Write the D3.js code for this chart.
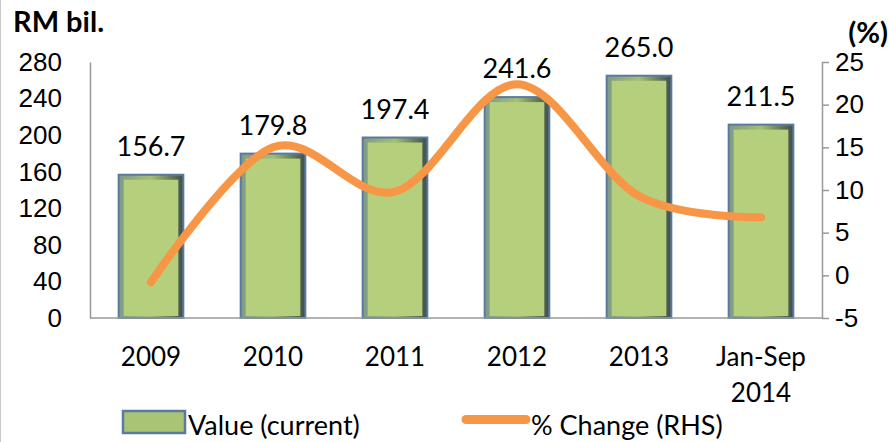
<!DOCTYPE html>
<html>
<head>
<meta charset="utf-8">
<script src="https://cdn.jsdelivr.net/npm/d3@7"></script>
<style>
  body { margin: 0; background: #fff; }
  svg { display: block; font-family: Lato, "Liberation Sans", sans-serif; }
</style>
</head>
<body>
<svg id="chart" width="889" height="442"></svg>
<script>
"use strict";

// 카테고리, 값 데이터
const categories = ["2009", "2010", "2011", "2012", "2013", "Jan-Sep\n2014"];
const values = [156.7, 179.8, 197.4, 241.6, 265.0, 211.5];
const pctChange = [-0.8, 15.0, 9.8, 22.4, 9.3, 6.8];
const leftTicks = [0, 40, 80, 120, 160, 200, 240, 280];
const rightTicks = [-5, 0, 5, 10, 15, 20, 25];

const svg = d3.select("#chart");
const plotL = 90, plotR = 822, plotT = 62, plotB = 318;

const x = d3.scaleBand().domain(categories).range([plotL, plotR]).paddingInner(0.47).paddingOuter(0.235);
const y = d3.scaleLinear().domain([0, 280]).range([plotB, plotT]);
const y2 = d3.scaleLinear().domain([-5, 25]).range([plotB, plotT]);

// 바깥 테두리 (왼쪽 회색 선)
svg.append("line").attr("x1", 0.5).attr("x2", 0.5).attr("y1", 0).attr("y2", 442)
  .attr("stroke", "#c8c8c8");

// 그라디언트 정의 - 막대 입체 효과
const defs = svg.append("defs");
const g1 = defs.append("linearGradient").attr("id", "edge").attr("x1", 0).attr("x2", 1);
g1.append("stop").attr("offset", "0%").attr("stop-color", "#7f9a8a");
g1.append("stop").attr("offset", "50%").attr("stop-color", "#a4bf74");
g1.append("stop").attr("offset", "100%").attr("stop-color", "#3f4f4a");

// 왼쪽 축
const yAxis = svg.append("g").attr("transform", `translate(${plotL},0)`)
  .call(d3.axisLeft(y).tickValues(leftTicks).tickSize(0).tickPadding(28));
yAxis.select(".domain").attr("stroke", "#999").attr("stroke-width", 1.5);
yAxis.selectAll("text").attr("font-size", 26).attr("fill", "#000");

// 오른쪽 축 (하이픈 마이너스 그대로 표시)
const y2Axis = svg.append("g").attr("transform", `translate(${plotR},0)`)
  .call(d3.axisRight(y2).tickValues(rightTicks).tickFormat((d) => String(d))
    .tickSize(7).tickPadding(6).tickSizeOuter(0));
y2Axis.select(".domain").attr("stroke", "#999").attr("stroke-width", 1.5);
y2Axis.selectAll("line").attr("stroke", "#999").attr("stroke-width", 1.5);
y2Axis.selectAll("text").attr("font-size", 26).attr("fill", "#000");

// 막대
const bars = svg.append("g").selectAll("g").data(values).enter().append("g");
bars.append("rect")
  .attr("x", (d, i) => x(categories[i]))
  .attr("y", (d) => y(d))
  .attr("width", x.bandwidth())
  .attr("height", (d) => plotB - y(d))
  .attr("fill", "url(#edge)")
  .attr("stroke", "#5a7aa0")
  .attr("stroke-width", 2);
bars.append("rect")
  .attr("x", (d, i) => x(categories[i]) + 5)
  .attr("y", (d) => y(d) + 5)
  .attr("width", x.bandwidth() - 10)
  .attr("height", (d) => plotB - y(d) - 7)
  .attr("fill", "#b5cf7d");
bars.append("text")
  .attr("x", (d, i) => x(categories[i]) + x.bandwidth() / 2)
  .attr("y", (d) => y(d) - 19)
  .attr("text-anchor", "middle")
  .attr("font-size", 27)
  .text((d) => d.toFixed(1));

// 아래 기준선
svg.append("line").attr("x1", plotL).attr("x2", plotR).attr("y1", plotB).attr("y2", plotB)
  .attr("stroke", "#999").attr("stroke-width", 1.5);

// x축 라벨 (두 줄 처리)
const xl = svg.append("g").selectAll("text").data(categories).enter().append("text")
  .attr("x", (d) => x(d) + x.bandwidth() / 2)
  .attr("y", 366)
  .attr("text-anchor", "middle")
  .attr("font-size", 26);
xl.selectAll("tspan").data((d) => d.split("\n")).enter().append("tspan")
  .attr("x", function () { return this.parentNode.getAttribute("x"); })
  .attr("dy", (d, i) => (i ? 36 : 0))
  .text((d) => d);

// 변화율 곡선
const line = d3.line()
  .x((d, i) => x(categories[i]) + x.bandwidth() / 2)
  .y((d) => y2(d))
  .curve(d3.curveCardinal.tension(0));
svg.append("path").datum(pctChange).attr("d", line)
  .attr("fill", "none").attr("stroke", "#f79646").attr("stroke-width", 8)
  .attr("stroke-linecap", "round");

// 제목
svg.append("text").attr("x", 13).attr("y", 32).attr("font-size", 29).attr("font-weight", "bold").text("RM bil.");
svg.append("text").attr("x", 888).attr("y", 43).attr("text-anchor", "end").attr("font-size", 29).attr("font-weight", "bold").text("(%)");

// 범례
svg.append("rect").attr("x", 123).attr("y", 411).attr("width", 62).attr("height", 22)
  .attr("fill", "#a9c474").attr("stroke", "#5a7aa0").attr("stroke-width", 2.5);
svg.append("text").attr("x", 188).attr("y", 435).attr("font-size", 27).text("Value (current)");
svg.append("line").attr("x1", 466).attr("x2", 526).attr("y1", 419.5).attr("y2", 419.5)
  .attr("stroke", "#f79646").attr("stroke-width", 9).attr("stroke-linecap", "round");
svg.append("text").attr("x", 531).attr("y", 435).attr("font-size", 27).text("% Change (RHS)");
</script>
</body>
</html>
